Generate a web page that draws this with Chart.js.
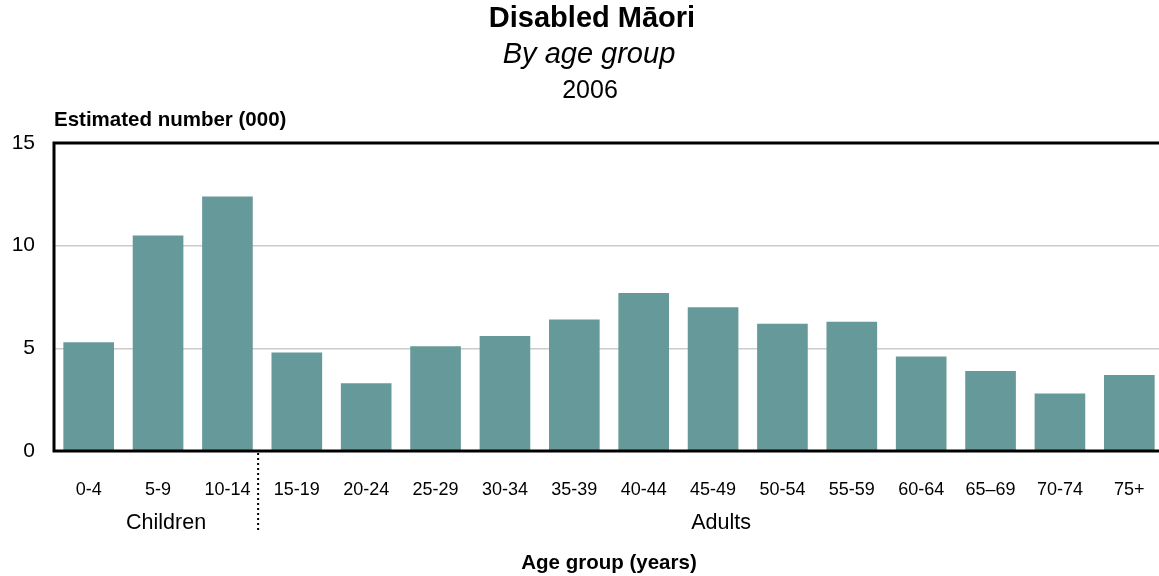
<!DOCTYPE html>
<html>
<head>
<meta charset="utf-8">
<script src="https://cdn.jsdelivr.net/npm/chart.js@4/dist/chart.umd.min.js"></script>
<style>
  html, body { margin: 0; padding: 0; background: #fff; overflow: hidden; }
  #wrap { width: 1164px; height: 576px; position: relative; }
</style>
</head>
<body>
<div id="wrap"><canvas id="maoriChart"></canvas></div>
<script>
const ageGroups = ['0-4', '5-9', '10-14', '15-19', '20-24', '25-29', '30-34', '35-39',
                   '40-44', '45-49', '50-54', '55-59', '60-64', '65–69', '70-74', '75+'];
const disabledCounts = [5.3, 10.5, 12.4, 4.8, 3.3, 5.1, 5.6, 6.4,
                        7.7, 7.0, 6.2, 6.3, 4.6, 3.9, 2.8, 3.7];
const yTicks = [0, 5, 10, 15];
const groups = [
    { label: 'Children', from: '0-4', to: '10-14' },
    { label: 'Adults', from: '15-19', to: '75+' }
];

const FONT = '"Liberation Sans", Arial, sans-serif';
const NARROW = '"Liberation Sans Narrow", "Arial Narrow", "Liberation Sans", sans-serif';

// titles, frame, group labels and the dotted children/adults split
const extrasPlugin = {
    id: 'extras',
    afterDraw(chart) {
        const { ctx, chartArea, scales } = chart;
        const x = scales.x, y = scales.y;
        ctx.save();
        ctx.fillStyle = '#000';
        ctx.textAlign = 'center';
        ctx.textBaseline = 'middle';
        ctx.font = 'bold 29px ' + FONT;
        ctx.fillText('Disabled Māori', 592, 19);
        ctx.font = 'italic 29px ' + FONT;
        ctx.fillText('By age group', 589, 55);
        ctx.font = '25px ' + FONT;
        ctx.fillText('2006', 590, 91);

        ctx.textAlign = 'left';
        ctx.font = 'bold 20.5px ' + FONT;
        ctx.fillText('Estimated number (000)', chartArea.left, 120);

        ctx.textAlign = 'center';
        ctx.fillText('Age group (years)', 609, 563);

        ctx.font = '21.5px ' + FONT;
        groups.forEach(g => {
            const a = x.getPixelForValue(ageGroups.indexOf(g.from));
            const b = x.getPixelForValue(ageGroups.indexOf(g.to));
            ctx.fillText(g.label, (a + b) / 2 + 8, 523);
        });

        // frame: left, top, bottom
        ctx.strokeStyle = '#000';
        ctx.lineWidth = 3;
        ctx.beginPath();
        ctx.moveTo(chartArea.right + 2, y.getPixelForValue(15));
        ctx.lineTo(chartArea.left, y.getPixelForValue(15));
        ctx.lineTo(chartArea.left, y.getPixelForValue(0));
        ctx.lineTo(chartArea.right + 2, y.getPixelForValue(0));
        ctx.stroke();

        // dotted divider between 10-14 and 15-19
        const split = (x.getPixelForValue(2) + x.getPixelForValue(3)) / 2 - 4;
        ctx.lineWidth = 2;
        ctx.setLineDash([2, 3]);
        ctx.beginPath();
        ctx.moveTo(split, y.getPixelForValue(0) + 2);
        ctx.lineTo(split, 531);
        ctx.stroke();
        ctx.restore();
    }
};

new Chart(document.getElementById('maoriChart'), {
    type: 'bar',
    data: {
        labels: ageGroups,
        datasets: [{
            data: disabledCounts,
            backgroundColor: '#669999',
            categoryPercentage: 1.0,
            barPercentage: 0.73
        }]
    },
    options: {
        responsive: true,
        maintainAspectRatio: false,
        animation: false,
        layout: { padding: { top: 143, left: 0, right: 0, bottom: 0 } },
        plugins: { legend: { display: false }, tooltip: { enabled: false } },
        scales: {
            x: {
                grid: { display: false, drawTicks: false },
                border: { display: false },
                ticks: { color: '#000', font: { family: NARROW, size: 18 }, padding: 28, maxRotation: 0, autoSkip: false },
                afterFit(scale) {
                    scale.height = 125;
                    scale.paddingLeft = 0;
                    scale.paddingRight = 0;
                }
            },
            y: {
                min: 0,
                max: 15,
                afterBuildTicks(scale) { scale.ticks = yTicks.map(v => ({ value: v })); },
                grid: { color: '#cccccc', lineWidth: 1.5, drawTicks: false },
                border: { display: false },
                ticks: { color: '#000', font: { family: FONT, size: 21 }, padding: 19 },
                afterFit(scale) { scale.width = 54; }
            }
        }
    },
    plugins: [extrasPlugin]
});
</script>
</body>
</html>
